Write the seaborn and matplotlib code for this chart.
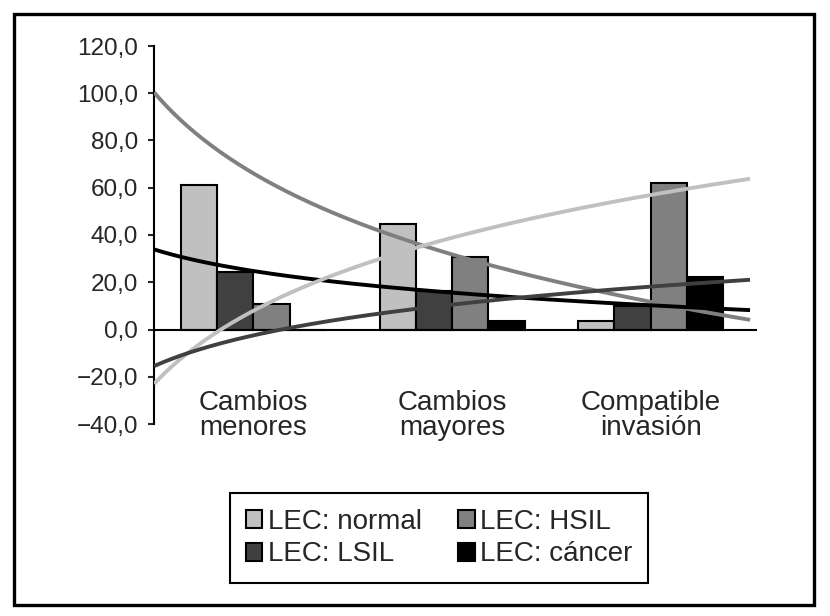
"""Bar chart of LEC results by category with log trend lines."""
import matplotlib
matplotlib.use('Agg')
import matplotlib.pyplot as plt
from matplotlib.patches import Rectangle
from matplotlib.ticker import FuncFormatter
import numpy as np
import pandas as pd
import seaborn as sns

# data
categories = ['Cambios\nmenores', 'Cambios\nmayores', 'Compatible\ninvasión']
series = ['LEC: normal', 'LEC: LSIL', 'LEC: HSIL', 'LEC: cáncer']
lec_normal = [61.3, 44.8, 3.5]
lec_lsil = [24.5, 16.3, 9.8]
lec_hsil = [11.0, 30.5, 62.2]
lec_cancer = [0.0, 3.8, 22.4]

bar_colors = ['#c0c0c0', '#404040', '#808080', '#000000']
# colour of the trend line drawn for each series (as in the original)
trend_colors = ['#808080', '#000000', '#c0c0c0', '#404040']

values = [lec_normal, lec_lsil, lec_hsil, lec_cancer]
df = pd.DataFrame({
    'categoria': [c for _ in series for c in categories],
    'serie': [s for s in series for _ in categories],
    'valor': [v for vals in values for v in vals],
})

sns.set_style('white')
plt.rcParams['font.family'] = ['Liberation Sans', 'DejaVu Sans']

fig = plt.figure(figsize=(8.3, 6.16), dpi=100)
ax = fig.add_axes([154 / 830, 1 - 424 / 616, (757 - 154) / 830, (424 - 46) / 616])

sns.barplot(data=df, x='categoria', y='valor', hue='serie', palette=bar_colors,
            width=0.73, edgecolor='black', linewidth=1.5, errorbar=None,
            saturation=1, ax=ax)

# logarithmic trend lines (Excel style, x = 1, 2, 3)
xs = np.arange(1, len(categories) + 1)
xx = np.linspace(0.5, len(categories) + 0.5, 200)
for vals, col in zip(values, trend_colors):
    b, a = np.polyfit(np.log(xs), vals, 1)
    ax.plot(xx - 1, a + b * np.log(xx), color=col, lw=2.8, zorder=5,
            solid_capstyle='butt')

ax.axhline(0, color='black', lw=1.5, zorder=4)
ax.set_xlim(-0.5, 2.535)
ax.set_ylim(-40, 120)
ax.set_yticks(np.arange(-40, 121, 20))
ax.yaxis.set_major_formatter(
    FuncFormatter(lambda v, p: f'{v:.1f}'.replace('.', ',').replace('-', '\u2212')))
ax.tick_params(axis='y', direction='out', length=4, width=1.5, pad=7.5,
               labelsize=17.5, left=True)
ax.set_xticks([])
ax.set(xlabel='', ylabel='')
for side in ['top', 'right', 'bottom']:
    ax.spines[side].set_visible(False)
ax.spines['left'].set_linewidth(1.5)
ax.spines['left'].set_color('black')

for i, cat in enumerate(categories):
    ax.text(i, -25.5, cat, ha='center', va='top', fontsize=20, linespacing=0.95)

handles, labels = ax.get_legend_handles_labels()
ax.get_legend().remove()
leg = fig.legend(handles, labels, ncol=2, loc='center',
                 bbox_to_anchor=(439 / 830, 1 - 538 / 616), fontsize=20,
                 frameon=True, fancybox=False, framealpha=1, edgecolor='black',
                 handlelength=0.6, handleheight=0.6, handletextpad=0.2,
                 columnspacing=1.3, labelspacing=0.25, borderpad=0.55)
leg.get_frame().set_linewidth(1.5)

# outer frame around the whole picture
fig.patches.append(Rectangle((14 / 830, 1 - 605 / 616), 800 / 830, 591 / 616,
                             transform=fig.transFigure, fill=False,
                             edgecolor='black', lw=2.4))

fig.savefig('out.png', dpi=100)
